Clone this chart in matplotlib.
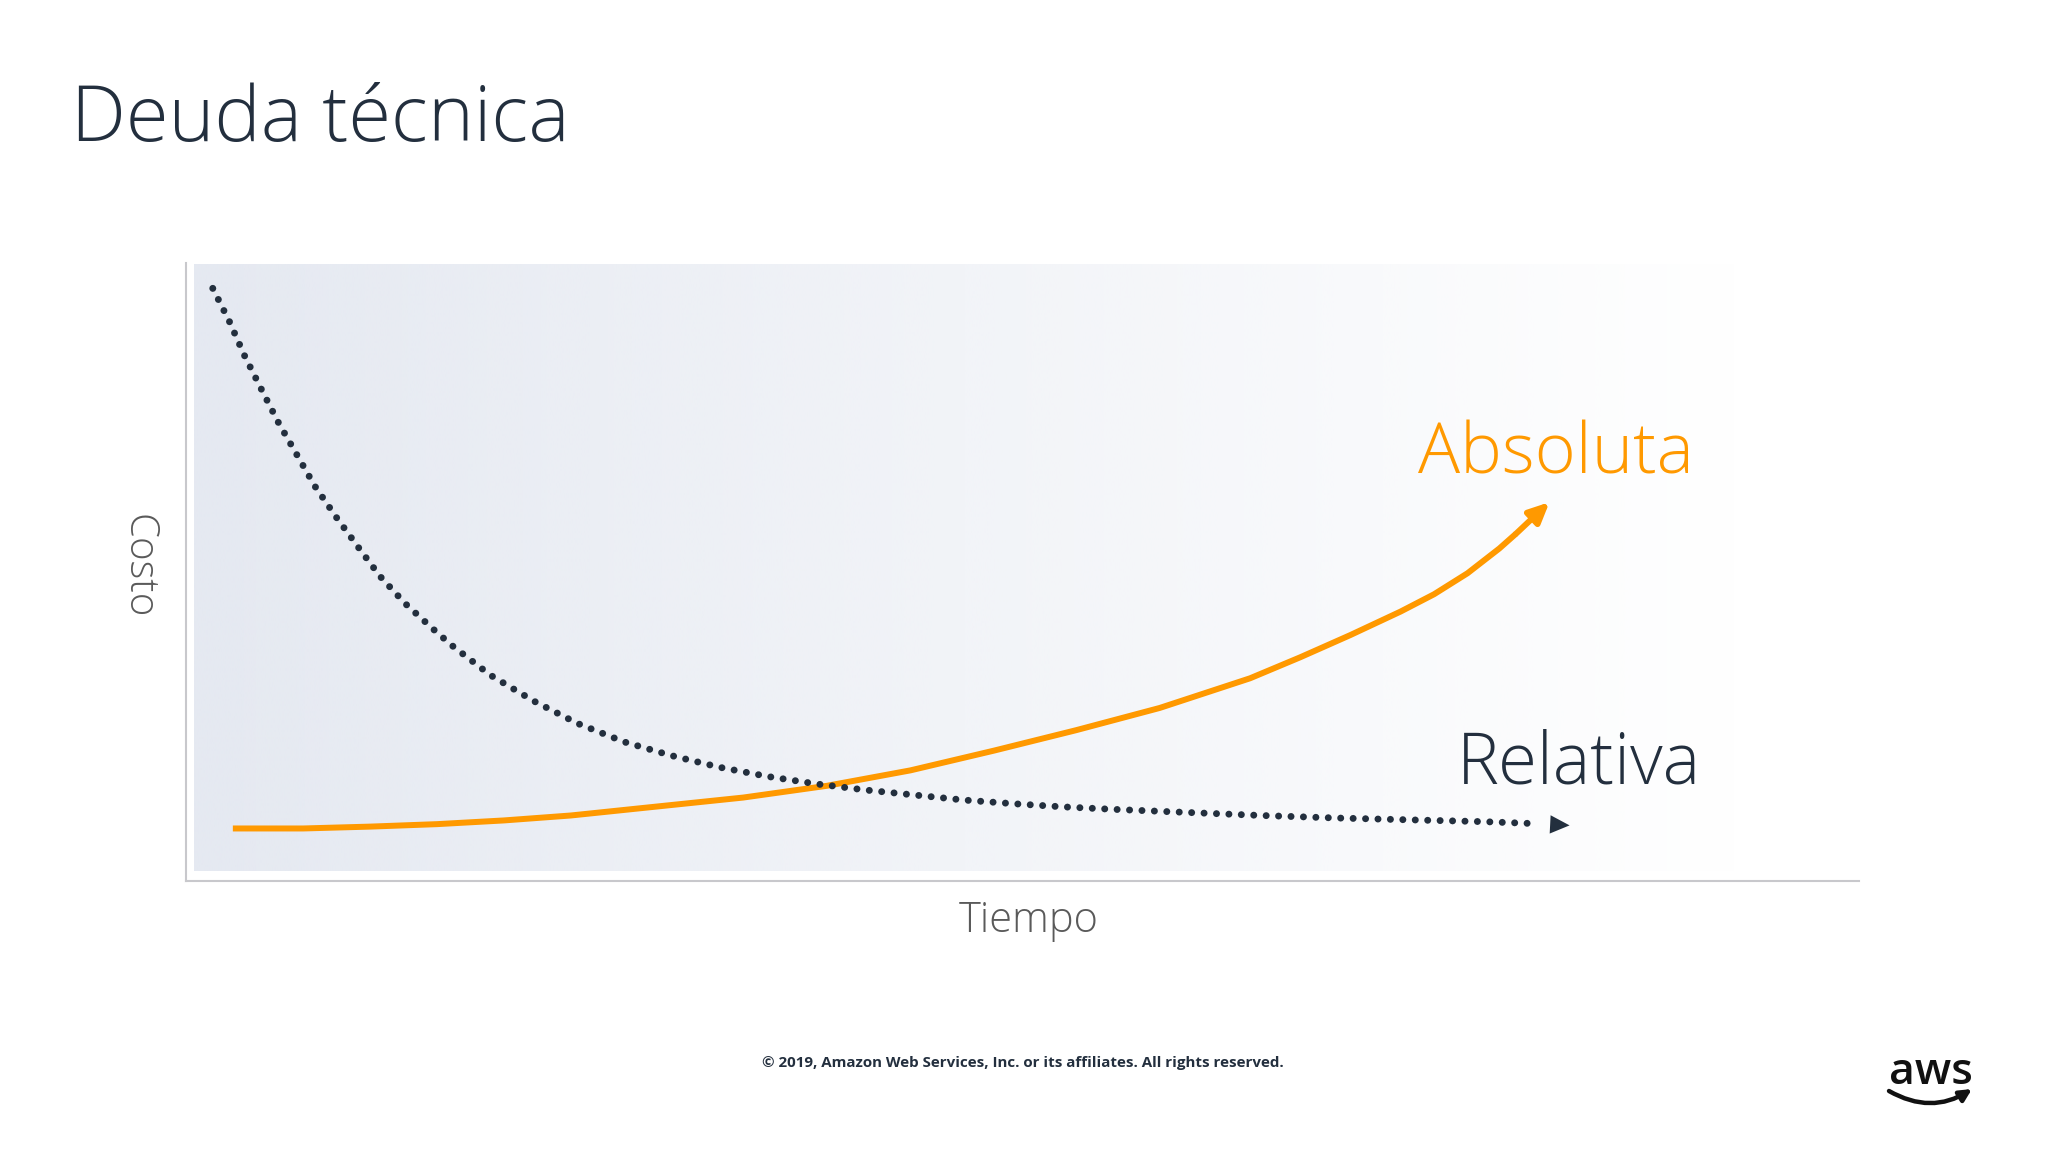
import matplotlib
matplotlib.use('Agg')
import matplotlib.pyplot as plt
import matplotlib.patches as mpatches
import numpy as np

# curve readings (time, cost) on a 0-100 scale
tiempo_relativa = [1.6, 2.6, 3.5, 4.5, 5.5, 6.6, 7.7, 9.0, 10.3, 11.6, 13.1, 14.8,
                   15.9, 18.2, 20.8, 23.4, 26.2, 29.0, 31.9, 34.8, 37.7, 40.7,
                   43.6, 46.5, 49.5, 52.4, 55.4, 59.8, 64.3, 68.7, 73.1, 77.6, 80.5]
costo_relativa = [95.9, 90.5, 85.0, 79.6, 74.3, 69.1, 63.9, 58.8, 54.0, 49.3, 44.9, 40.7,
                  38.1, 33.3, 29.1, 25.5, 22.5, 20.3, 18.4, 16.9, 15.7, 14.7,
                  13.9, 13.1, 12.5, 12.0, 11.6, 11.1, 10.6, 10.2, 9.9, 9.6, 9.3]
punta_relativa = (82.7, 9.0)

tiempo_absoluta = [2.8, 7.0, 11.0, 15.0, 19.0, 23.0, 26.9, 33.3, 38.3, 43.3, 48.3,
                   53.2, 58.2, 63.6, 66.6, 69.6, 72.6, 74.6, 76.6, 78.5, 79.5]
costo_absoluta = [8.5, 8.5, 8.8, 9.2, 9.8, 10.6, 11.7, 13.5, 15.4, 17.9, 21.1,
                  24.4, 28.0, 32.8, 36.2, 39.8, 43.6, 46.4, 49.8, 53.8, 56.2]
punta_absoluta = (81.5, 61.3)

NARANJA = "#FF9900"
OSCURO = "#232F3E"
GRIS = "#5A5A5A"
FUENTE = ["Open Sans", "DejaVu Sans"]

plt.rcParams['font.family'] = FUENTE

fig = plt.figure(figsize=(20.48, 11.52), dpi=100, facecolor="white")
ax = fig.add_axes([186 / 2048, 1 - 881 / 1152, (1859 - 186) / 2048, (881 - 263) / 1152])
ax.set_xlim(0, 100)
ax.set_ylim(0, 100)
ax.set_facecolor("none")

# fondo degradado
ancho = 400
alfa = np.clip(1 - np.linspace(0, 1, ancho), 0, 1)
degradado = np.zeros((1, ancho, 4))
degradado[..., 0] = 0xE5 / 255
degradado[..., 1] = 0xE9 / 255
degradado[..., 2] = 0xF1 / 255
degradado[..., 3] = alfa
ax.imshow(degradado, extent=[0.5, 93, 1.6, 99.7], aspect='auto', zorder=0,
          interpolation='bilinear')

# Relativa (punteada)
ax.plot(tiempo_relativa, costo_relativa, color=OSCURO, lw=5.0,
        linestyle=(0, (0.01, 1.78)), dash_capstyle='round', zorder=3)
ax.annotate("", xy=punta_relativa, xytext=(tiempo_relativa[-1], costo_relativa[-1]),
            arrowprops=dict(arrowstyle="-|>,head_length=0.7,head_width=0.33",
                            color=OSCURO, lw=0, mutation_scale=20,
                            shrinkA=0, shrinkB=0), zorder=3)

# Absoluta (naranja)
ax.plot(tiempo_absoluta, costo_absoluta, color=NARANJA, lw=4.3,
        solid_capstyle='butt', solid_joinstyle='round', zorder=2)
ax.annotate("", xy=punta_absoluta, xytext=(tiempo_absoluta[-1], costo_absoluta[-1]),
            arrowprops=dict(arrowstyle="-|>,head_length=0.6,head_width=0.28",
                            color=NARANJA, lw=4.3, mutation_scale=20,
                            shrinkA=0, shrinkB=0), zorder=2)

for lado in ["top", "right"]:
    ax.spines[lado].set_visible(False)
for lado in ["left", "bottom"]:
    ax.spines[lado].set_color("#C8C8CC")
    ax.spines[lado].set_linewidth(1.5)
ax.set_xticks([])
ax.set_yticks([])

# textos
fig.text(71 / 2048, 1 - 141 / 1152, "Deuda técnica", fontsize=56, color=OSCURO,
         fontweight='light', ha='left', va='baseline')
fig.text(1418 / 2048, 1 - 473 / 1152, "Absoluta", fontsize=50.5, color=NARANJA,
         fontweight='light', ha='left', va='baseline')
fig.text(1457 / 2048, 1 - 783 / 1152, "Relativa", fontsize=51, color=OSCURO,
         fontweight='light', ha='left', va='baseline')
fig.text(138 / 2048, 1 - 566.5 / 1152, "Costo", fontsize=29, color=GRIS,
         fontweight='light', rotation=270, ha='center', va='center')
fig.text(1029 / 2048, 1 - 931.7 / 1152, "Tiempo", fontsize=30, color=GRIS,
         fontweight='light', ha='center', va='baseline')
fig.text(1023 / 2048, 1 - 1063 / 1152,
         "© 2019, Amazon Web Services, Inc. or its affiliates. All rights reserved.",
         fontsize=10.9, color=OSCURO, fontweight='bold', ha='center', va='center')

# logo aws
fig.text(1931 / 2048, 1 - 1084 / 1152, "aws", fontsize=32, color="#111111",
         fontweight='semibold', ha='center', va='baseline')
sonrisa = mpatches.FancyArrowPatch((1889 / 2048, 1 - 1091 / 1152), (1972 / 2048, 1 - 1089 / 1152),
                                   connectionstyle="arc3,rad=0.3",
                                   arrowstyle="-|>,head_length=0.5,head_width=0.25",
                                   mutation_scale=14, lw=3.2, color="#111111",
                                   transform=fig.transFigure, shrinkA=0, shrinkB=0)
fig.patches.append(sonrisa)

fig.savefig("out.png", dpi=100, facecolor="white")
